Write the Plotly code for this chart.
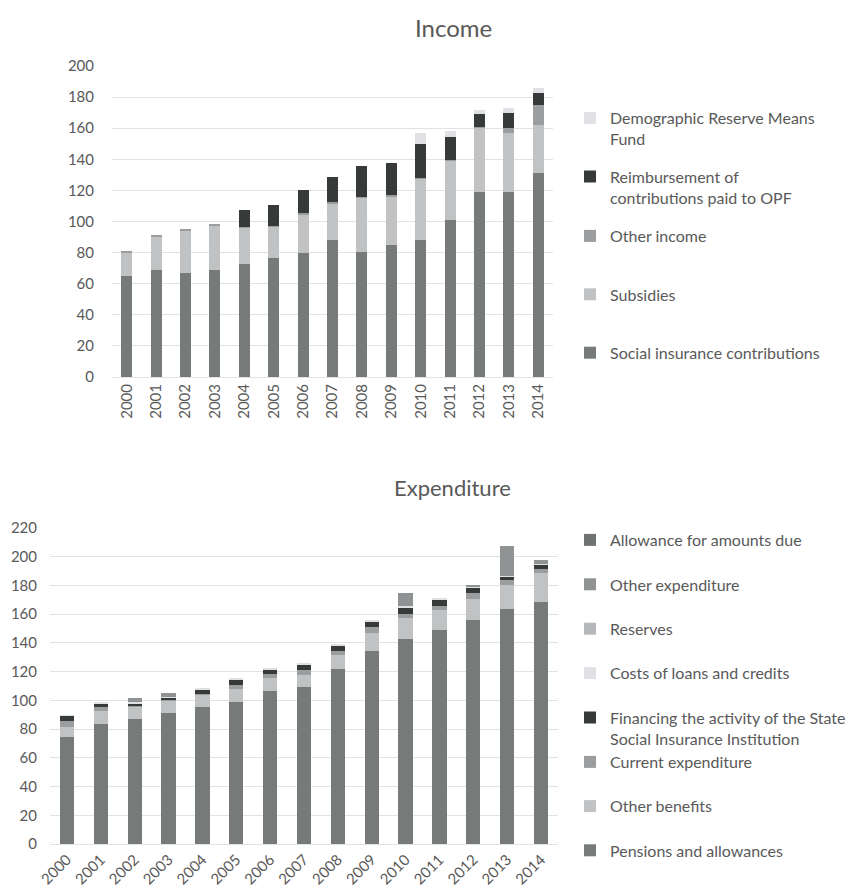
import plotly.graph_objects as go

years = [str(y) for y in range(2000, 2015)]

# Income (stack bottom -> top)
inc_contrib = [65.0, 68.5, 66.6, 68.5, 72.8, 76.7, 80.0, 87.8, 80.7, 85.0, 87.8, 101.0, 119.0, 119.0, 131.3]
inc_subsid = [15.0, 22.0, 27.6, 29.0, 23.3, 20.3, 24.5, 23.8, 34.5, 31.0, 39.6, 38.4, 41.4, 38.2, 30.8]
inc_other = [1.0, 0.8, 0.9, 0.9, 0.3, 0.3, 0.9, 0.8, 0.3, 0.9, 0.3, 0.4, 0.6, 2.8, 12.9]
inc_reimb = [0.0, 0.0, 0.0, 0.0, 11.0, 13.0, 14.9, 16.1, 20.0, 20.6, 22.0, 14.8, 8.0, 10.0, 7.9]
inc_demo = [0.0, 0.0, 0.0, 0.0, 0.0, 0.0, 0.0, 0.0, 0.0, 0.0, 7.0, 3.9, 2.7, 2.8, 3.0]

# Expenditure (stack bottom -> top)
exp_pensions = [74.7, 83.6, 86.8, 91.3, 95.5, 98.9, 106.6, 109.4, 121.8, 134.7, 142.5, 149.0, 155.8, 163.6, 168.3]
exp_benefits = [6.9, 9.3, 8.8, 8.6, 8.7, 9.0, 9.2, 8.0, 9.8, 12.5, 14.8, 13.7, 14.8, 16.9, 20.2]
exp_current = [4.1, 2.8, 0.3, 0.5, 0.4, 3.0, 2.7, 4.0, 3.0, 4.2, 3.1, 3.3, 4.2, 3.3, 3.0]
exp_financing = [3.5, 1.8, 2.2, 1.4, 2.8, 3.3, 3.0, 3.8, 3.5, 3.6, 4.5, 4.3, 3.5, 2.7, 3.2]
exp_loans = [0.6, 0.9, 0.9, 0.4, 1.1, 0.9, 0.9, 0.9, 1.1, 0.9, 0.6, 1.1, 0.6, 0.3, 0.5]
exp_reserves = [0.0] * 15
exp_other = [0.0, 0.0, 2.4, 2.7, 0.0, 0.0, 0.0, 0.0, 0.0, 0.0, 9.5, 0.0, 1.6, 21.0, 2.8]
exp_allowance = [0.0] * 15

income_series = [
    ("Social insurance contributions", inc_contrib, "#767b7a", "legend2"),
    ("Subsidies", inc_subsid, "#c1c2c4", "legend2"),
    ("Other income", inc_other, "#9b9d9f", "legend2"),
    ("Reimbursement of<br>contributions paid to OPF", inc_reimb, "#363b39", "legend"),
    ("Demographic Reserve Means<br>Fund", inc_demo, "#e1e1e5", "legend"),
]
exp_series = [
    ("Pensions and allowances", exp_pensions, "#767b7a", "legend4"),
    ("Other benefits", exp_benefits, "#c1c2c4", "legend4"),
    ("Current expenditure", exp_current, "#9b9d9f", "legend4"),
    ("Financing the activity of the State<br>Social Insurance Institution", exp_financing, "#363b39", "legend3"),
    ("Costs of loans and credits", exp_loans, "#e1e1e5", "legend3"),
    ("Reserves", exp_reserves, "#b6b8bb", "legend3"),
    ("Other expenditure", exp_other, "#8f9393", "legend3"),
    ("Allowance for amounts due", exp_allowance, "#6f7473", "legend3"),
]

fig = go.Figure()
for i, (name, vals, col, lg) in enumerate(income_series):
    fig.add_trace(go.Bar(x=years, y=vals, name=name, width=0.38,
                         marker=dict(color=col, line=dict(width=0)),
                         xaxis="x", yaxis="y", legend=lg, legendgroup=f"i{i}",
                         legendrank=1000 - i))
for i, (name, vals, col, lg) in enumerate(exp_series):
    fig.add_trace(go.Bar(x=years, y=vals, name=name, width=0.42,
                         marker=dict(color=col, line=dict(width=0)),
                         xaxis="x2", yaxis="y2", legend=lg, legendgroup=f"e{i}",
                         legendrank=1000 - i))

# page is offset by the 8px body margin, so the figure is 8px smaller
W, H = 860, 883
FONT = "Lato"
TXT = "#595959"
GRID = "#e2e2e2"

def px_x(a, b):
    return [a / W, b / W]

def px_y(top, bottom):
    return [1 - bottom / H, 1 - top / H]

legend_common = dict(
    bgcolor="rgba(0,0,0,0)", font=dict(family=FONT, size=16, color=TXT),
    xanchor="left", yanchor="top", traceorder="grouped", valign="top",
    itemclick=False, itemdoubleclick=False,
)

LX = 562 / W

fig.update_layout(
    width=W, height=H,
    margin=dict(l=0, r=0, t=0, b=0),
    paper_bgcolor="white", plot_bgcolor="white",
    barmode="stack",
    font=dict(family=FONT, color=TXT),
    xaxis=dict(domain=px_x(104, 545), anchor="y", tickangle=-90, showgrid=False,
               showline=True, linecolor=GRID, linewidth=1, ticks="",
               tickfont=dict(family=FONT, size=15, color=TXT), automargin=False),
    yaxis=dict(domain=px_y(58, 369), anchor="x", range=[0, 200], dtick=20,
               showgrid=True, gridcolor=GRID, gridwidth=1, zeroline=False, showline=False,
               tickfont=dict(family=FONT, size=15, color=TXT), ticklabelstandoff=17, automargin=False),
    xaxis2=dict(domain=px_x(42, 550), anchor="y2", tickangle=-45, showgrid=False,
                showline=True, linecolor=GRID, linewidth=1, ticks="",
                tickfont=dict(family=FONT, size=15, color=TXT), automargin=False),
    yaxis2=dict(domain=px_y(520, 836), anchor="x2", range=[0, 220], dtick=20,
                showgrid=True, gridcolor=GRID, gridwidth=1, zeroline=False, showline=False,
                tickfont=dict(family=FONT, size=15, color=TXT), ticklabelstandoff=12, automargin=False),
    legend=dict(x=LX, y=1 - 93 / H, tracegroupgap=14, **legend_common),
    legend2=dict(x=LX, y=1 - 211 / H, tracegroupgap=34.6, **legend_common),
    legend3=dict(x=LX, y=1 - 515 / H, tracegroupgap=20.6, **legend_common),
    legend4=dict(x=LX, y=1 - 737 / H, tracegroupgap=20.4, **legend_common),
    annotations=[
        dict(text="Income", x=445 / W, y=1 - 19 / H, xref="paper", yref="paper",
             showarrow=False, xanchor="center", yanchor="middle",
             font=dict(family=FONT, size=24, color=TXT)),
        dict(text="Expenditure", x=444 / W, y=1 - 480 / H, xref="paper", yref="paper",
             showarrow=False, xanchor="center", yanchor="middle",
             font=dict(family=FONT, size=22, color=TXT)),
    ],
)

fig.write_html("out.html")
